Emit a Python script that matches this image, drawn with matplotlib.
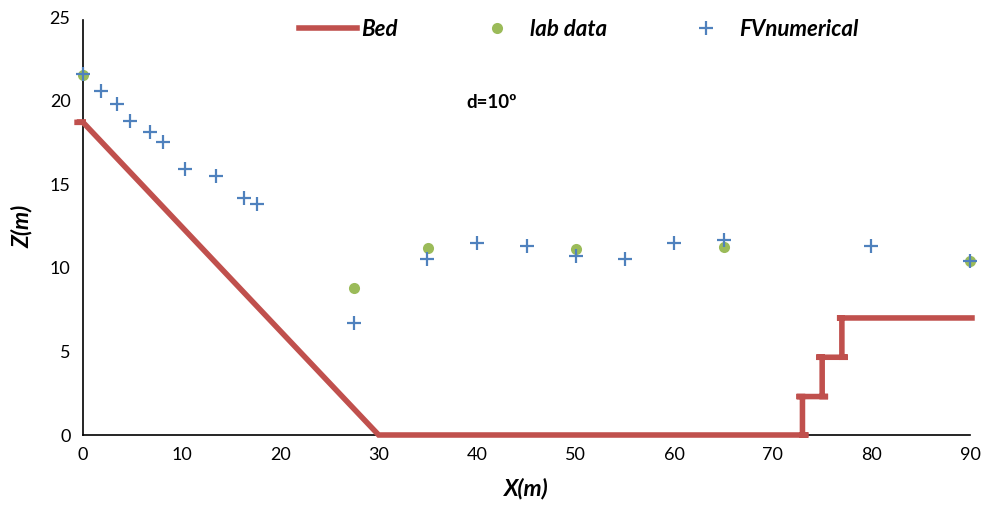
import matplotlib
matplotlib.use("Agg")
import matplotlib.pyplot as plt

# bed profile (small overhangs at the step corners as in the original)
bed_x = [-0.6, 0.3, 0.0, 30.0, 73.6, 73.0, 73.0, 72.4, 75.6, 75.0, 75.0, 74.4, 77.6, 77.0, 77.0, 76.5, 90.2]
bed_z = [18.7, 18.7, 18.7, 0.0, 0.0, 0.0, 2.3, 2.3, 2.3, 2.3, 4.65, 4.65, 4.65, 4.65, 7.0, 7.0, 7.0]

lab_x = [0, 27.5, 35, 50, 65, 90]
lab_z = [21.55, 8.8, 11.2, 11.15, 11.25, 10.4]

fv_x = [0, 1.8, 3.4, 4.8, 6.8, 8.1, 10.3, 13.5, 16.3, 17.7, 27.5, 34.9, 40, 45, 50, 55, 60, 65, 80, 90]
fv_z = [21.6, 20.6, 19.8, 18.8, 18.1, 17.5, 15.9, 15.5, 14.2, 13.8, 6.7, 10.5, 11.5, 11.3, 10.7, 10.55, 11.5, 11.65, 11.3, 10.4]

x_ticks = [0, 10, 20, 30, 40, 50, 60, 70, 80, 90]
z_ticks = [0, 5, 10, 15, 20, 25]

plt.rcParams['font.family'] = ['Lato', 'DejaVu Sans']

fig = plt.figure(figsize=(9.94, 5.07), dpi=100)
ax = fig.add_axes([83/994, 1-435/507, (970-83)/994, (435-17)/507])

ax.plot(bed_x, bed_z, color='#C0504D', lw=4, solid_joinstyle='miter', label='Bed', zorder=2, clip_on=False)
ax.plot(lab_x, lab_z, 'o', color='#9BBB59', ms=8, mec='none', label='lab data', zorder=3, clip_on=False)
ax.plot(fv_x, fv_z, '+', color='#4F81BD', ms=10, mew=1.6, label='FVnumerical', zorder=4, clip_on=False)

ax.set_xlim(0, 90)
ax.set_ylim(0, 25)
ax.set_xticks(x_ticks)
ax.set_yticks(z_ticks)
ax.tick_params(length=0, labelsize=13, pad=9)
for s in ['top', 'right']:
    ax.spines[s].set_visible(False)
for s in ['left', 'bottom']:
    ax.spines[s].set_linewidth(1.2)
    ax.spines[s].set_color('black')
    ax.spines[s].set_zorder(1)
ax.spines['left'].set_bounds(0, 24.8)

ax.set_xlabel('X(m)', fontsize=16.5, fontweight='bold', style='italic', labelpad=10)
ax.set_ylabel('Z(m)', fontsize=16.5, fontweight='bold', style='italic', labelpad=12)

ax.text(38.9, 19.9, 'd=10º', fontsize=13.5, fontweight='bold', va='center')

fig.legend(loc='center', bbox_to_anchor=(579/994, 1-29/507), ncol=3, frameon=False,
           prop={'size': 16, 'weight': 'bold', 'style': 'italic'},
           handlelength=2.6, handletextpad=0.2, columnspacing=3.15, borderpad=0)

fig.savefig('out.png', dpi=100)
